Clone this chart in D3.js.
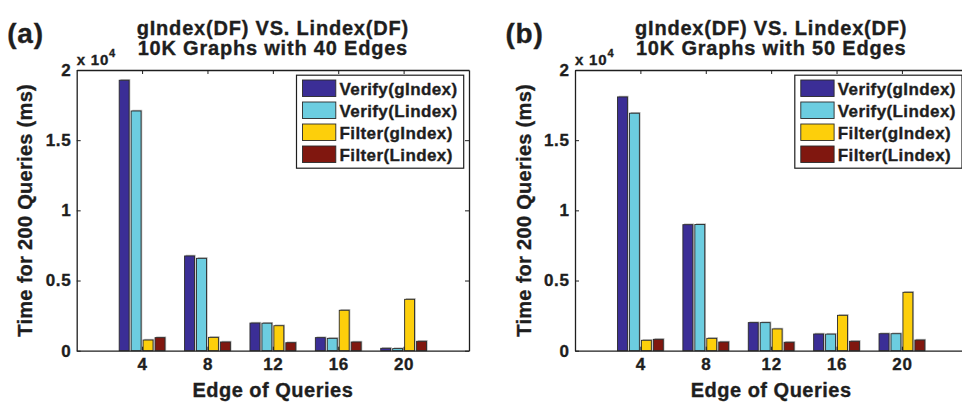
<!DOCTYPE html>
<html>
<head>
<meta charset="utf-8">
<script src="https://cdn.jsdelivr.net/npm/d3@7"></script>
<style>
  html, body { margin: 0; padding: 0; background: #fff; }
  svg { display: block; font-family: 'Liberation Sans', Arial, Helvetica, sans-serif; font-weight: bold; }
  svg text { stroke: #1e1e1e; stroke-width: 0.35px; }
</style>
</head>
<body>
<svg id="chart" width="962" height="402"></svg>
<script>
// Edge counts of the queries (x groups)
const edges = [4, 8, 12, 16, 20];
const seriesNames = ['Verify(gIndex)', 'Verify(Lindex)', 'Filter(gIndex)', 'Filter(Lindex)'];
const seriesColors = ['#3b2e96', '#6ccde0', '#fdcf0b', '#80170f'];
const yTicks = [0, 0.5, 1, 1.5, 2];

// panel (a): 40-edge graphs, values in units of 10^4 ms
const verifyG40 = [1.927, 0.675, 0.197, 0.093, 0.017];
const verifyL40 = [1.708, 0.658, 0.196, 0.088, 0.015];
const filterG40 = [0.076, 0.095, 0.178, 0.288, 0.366];
const filterL40 = [0.093, 0.062, 0.057, 0.062, 0.067];

// panel (b): 50-edge graphs
const verifyG50 = [1.808, 0.898, 0.200, 0.119, 0.121];
const verifyL50 = [1.692, 0.899, 0.200, 0.118, 0.121];
const filterG50 = [0.074, 0.088, 0.155, 0.252, 0.416];
const filterL50 = [0.081, 0.062, 0.060, 0.067, 0.076];

const panels = [
    { tag: '(a)', sub: '10K Graphs with 40 Edges', left: 76.7, series: [verifyG40, verifyL40, filterG40, filterL40] },
    { tag: '(b)', sub: '10K Graphs with 50 Edges', left: 575, series: [verifyG50, verifyL50, filterG50, filterL50] },
];

const Axes = { Top: 70, Width: 392.3, Height: 280.7 };
const ink = '#1e1e1e';

const svg = d3.select('#chart');

function renderPanel(p) {
    const g = svg.append('g').attr('transform', `translate(${p.left}, ${Axes.Top})`);

    const x = d3.scaleLinear().domain([0, 24]).range([0, Axes.Width]);
    const y = d3.scaleLinear().domain([0, 2]).range([Axes.Height, 0]);

    // bars within a group: 4 slots across ~0.7 of the group spacing
    const half = (x(2.8) - x(0)) / 2;
    const sub = d3.scaleBand().domain(d3.range(seriesNames.length)).range([-half, half]).paddingInner(0.17);

    const rows = [];
    p.series.forEach((vals, si) => vals.forEach((v, ci) => rows.push({ si, cat: edges[ci], v })));

    // faint shadow behind bars
    g.append('g')
        .selectAll('rect')
        .data(rows)
        .join('rect')
        .attr('x', d => x(d.cat) + sub(d.si) + 1.2)
        .attr('y', d => y(d.v) - 1.2)
        .attr('width', sub.bandwidth())
        .attr('height', d => y(0) - y(d.v) + 1.2)
        .attr('fill', '#b8b8b8');

    g.append('g')
        .selectAll('rect')
        .data(rows)
        .join('rect')
        .attr('x', d => x(d.cat) + sub(d.si))
        .attr('y', d => y(d.v))
        .attr('width', sub.bandwidth())
        .attr('height', d => y(0) - y(d.v))
        .attr('fill', d => seriesColors[d.si])
        .attr('stroke', '#2a2a2a')
        .attr('stroke-width', 0.9);

    // axes box with inward ticks on all four sides
    const xAxisB = d3.axisBottom(x).tickValues(edges).tickSizeInner(-4).tickSizeOuter(0).tickPadding(7.5);
    const xAxisT = d3.axisTop(x).tickValues(edges).tickSizeInner(-4).tickSizeOuter(0).tickFormat('');
    const yAxisL = d3.axisLeft(y).tickValues(yTicks).tickSizeInner(-4).tickSizeOuter(0).tickPadding(5.5).tickFormat(d3.format('~g'));
    const yAxisR = d3.axisRight(y).tickValues(yTicks).tickSizeInner(-4).tickSizeOuter(0).tickFormat('');

    const styleAxis = sel => {
        sel.selectAll('path').attr('stroke', ink).attr('stroke-width', 1.3);
        sel.selectAll('line').attr('stroke', ink).attr('stroke-width', 1);
        sel.selectAll('text')
            .attr('fill', ink)
            .style('font-family', "'Liberation Sans', Arial, sans-serif")
            .style('font-weight', 'bold')
            .style('font-size', '17px')
            .style('letter-spacing', '0.6px');
    };

    g.append('g').attr('transform', `translate(0, ${Axes.Height})`).call(xAxisB).call(styleAxis);
    g.append('g').call(xAxisT).call(styleAxis);
    g.append('g').call(yAxisL).call(styleAxis);
    g.append('g').attr('transform', `translate(${Axes.Width}, 0)`).call(yAxisR).call(styleAxis);

    // exponent marker
    const ex = g.append('text')
        .attr('x', 0)
        .attr('y', -5)
        .attr('fill', ink)
        .style('font-size', '15px')
        .style('letter-spacing', '0.8px');
    ex.append('tspan').text('x 10');
    ex.append('tspan').attr('dy', -8).style('font-size', '11px').text('4');

    // titles
    g.append('text')
        .attr('x', Axes.Width / 2)
        .attr('y', 35 - Axes.Top)
        .attr('text-anchor', 'middle')
        .attr('fill', ink)
        .style('font-size', '20px')
        .style('letter-spacing', '0.8px')
        .text('gIndex(DF) VS. Lindex(DF)');
    g.append('text')
        .attr('x', Axes.Width / 2)
        .attr('y', 55 - Axes.Top)
        .attr('text-anchor', 'middle')
        .attr('fill', ink)
        .style('font-size', '20px')
        .style('letter-spacing', '0.8px')
        .text(p.sub);

    g.append('text')
        .attr('x', -69.5)
        .attr('y', 43 - Axes.Top)
        .attr('fill', ink)
        .style('font-size', '28px')
        .style('letter-spacing', '0.8px')
        .text(p.tag);

    g.append('text')
        .attr('x', x(12))
        .attr('y', 397 - Axes.Top)
        .attr('text-anchor', 'middle')
        .attr('fill', ink)
        .style('font-size', '20px')
        .style('letter-spacing', '0.5px')
        .text('Edge of Queries');

    g.append('text')
        .attr('transform', `translate(-44.5, ${Axes.Height / 2}) rotate(-90)`)
        .attr('text-anchor', 'middle')
        .attr('fill', ink)
        .style('font-size', '20px')
        .style('letter-spacing', '0.3px')
        .text('Time for 200 Queries (ms)');

    // legend
    const lg = g.append('g').attr('transform', `translate(${Axes.Width - 172.5}, 5.2)`);
    lg.append('rect')
        .attr('width', 167.2)
        .attr('height', 93)
        .attr('fill', '#fff')
        .attr('stroke', ink)
        .attr('stroke-width', 1.2);
    const item = lg.selectAll('g.item')
        .data(seriesNames)
        .join('g')
        .attr('class', 'item')
        .attr('transform', (d, i) => `translate(6, ${4.8 + i * 22})`);
    item.append('rect')
        .attr('width', 33.3)
        .attr('height', 16.5)
        .attr('fill', (d, i) => seriesColors[i])
        .attr('stroke', '#2a2a2a')
        .attr('stroke-width', 0.9);
    item.append('text')
        .attr('x', 37)
        .attr('y', 14.5)
        .attr('fill', ink)
        .style('font-size', '17px')
        .style('letter-spacing', '0.4px')
        .text(d => d);
}

panels.forEach(renderPanel);
</script>
</body>
</html>
